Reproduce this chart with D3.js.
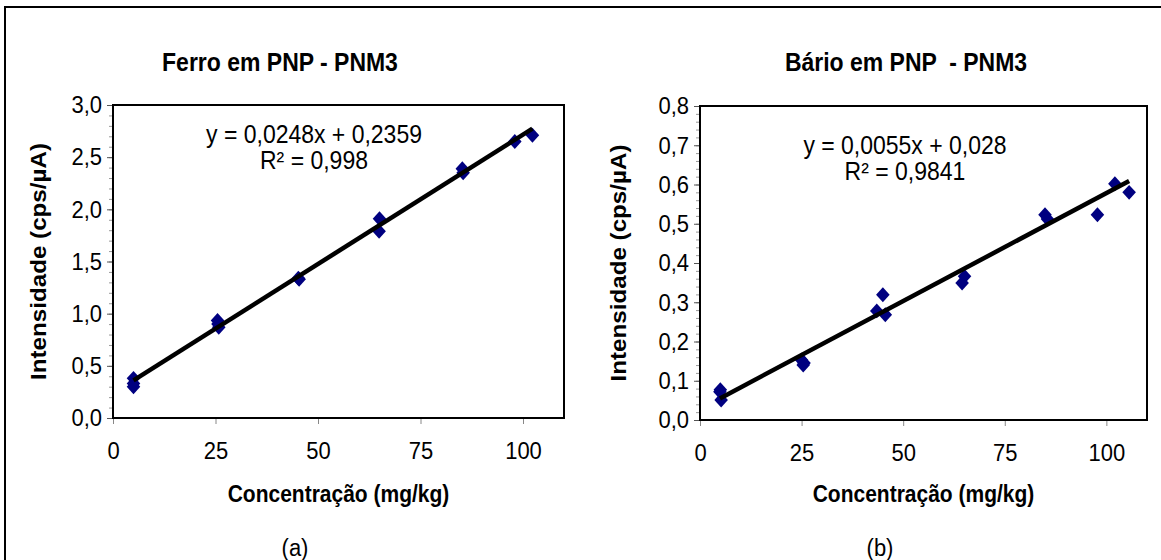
<!DOCTYPE html>
<html>
<head>
<meta charset="utf-8">
<script src="https://cdn.jsdelivr.net/npm/d3@7"></script>
<style>
  body { margin: 0; background: #fff; }
  svg { display: block; font-family: "Liberation Sans", Arial, sans-serif; }
  /* the source picture is stretched a bit vertically, so the glyphs are too */
  svg text { transform-box: fill-box; transform-origin: center; transform: scaleY(1.1); }
  svg text.side { transform: scaleX(1.1); }
</style>
</head>
<body>
<svg id="chart" width="1161" height="560"></svg>
<script>
  // values
  var ferroX = [5, 5, 5, 25.5, 25.8, 25.6, 45.2, 45.4, 65, 64.9, 85.2, 85.4, 98, 102.3];
  var ferroY = [0.38, 0.30, 0.33, 0.935, 0.87, 0.90, 1.34, 1.33, 1.91, 1.79, 2.39, 2.35, 2.65, 2.71];
  var ferroFit = [0.0248, 0.2359];

  var barioX = [4.9, 5.2, 5.0, 25, 25.6, 25.4, 45, 43.5, 45.6, 64.5, 65.1, 84.9, 85.5, 97.8, 102.1, 105.6];
  var barioY = [0.072, 0.051, 0.077, 0.153, 0.145, 0.14, 0.319, 0.278, 0.268, 0.349, 0.366, 0.523, 0.512, 0.523, 0.602, 0.58];
  var barioFit = [0.0055, 0.028];

  var xTicks = [0, 25, 50, 75, 100];
  var ferroYTicks = [0, 0.5, 1.0, 1.5, 2.0, 2.5, 3.0];
  var barioYTicks = [0, 0.1, 0.2, 0.3, 0.4, 0.5, 0.6, 0.7, 0.8];

  var titles = ['Ferro em PNP - PNM3', 'Bário em PNP  - PNM3'];
  var equations = [['y = 0,0248x + 0,2359', 'R² = 0,998'], ['y = 0,0055x + 0,028', 'R² = 0,9841']];
  var captions = ['(a)', '(b)'];
  var xTitle = 'Concentração (mg/kg)';
  var yTitle = 'Intensidade (cps/µA)';

  var ptBR = d3.formatLocale({decimal: ',', thousands: '.', grouping: [3], currency: ['', '']});
  var fmt1 = ptBR.format('.1f');

  var svg = d3.select('#chart');

  // outer frame (only top and left edges fall inside the picture)
  svg.append('path')
      .attr('d', 'M5,560 L5,7 L1161,7')
      .attr('fill', 'none')
      .attr('stroke', '#000')
      .attr('stroke-width', 2);

  var diamond = d3.symbol().type(d3.symbolSquare).size(92);

  var styleAxisText = function (a) {
    a.selectAll('text')
        .attr('font-size', 22)
        .attr('fill', '#000')
        .attr('font-family', '"Liberation Sans", Arial, sans-serif');
  };

  var drawPanel = function (opts) {
    var x = d3.scaleLinear().domain([0, 110]).range([opts.left, opts.right]);
    var y = d3.scaleLinear().domain([0, opts.yMax]).range([opts.bottom, opts.top]);
    var g = svg.append('g');
    var midX = (opts.left + opts.right) / 2;

    // minor y ticks
    var minor = d3.range(0, opts.yMax + opts.minorStep / 2, opts.minorStep);
    g.append('g')
        .attr('transform', 'translate(' + opts.left + ',0)')
        .call(d3.axisLeft(y).tickValues(minor).tickSize(4).tickFormat(''))
        .call(function (a) {
          a.select('.domain').remove();
          a.selectAll('line').attr('stroke', '#999');
        });

    // major y ticks
    g.append('g')
        .attr('transform', 'translate(' + opts.left + ',0)')
        .call(d3.axisLeft(y).tickValues(opts.yTicks).tickSize(6).tickPadding(5).tickFormat(fmt1))
        .call(function (a) {
          a.select('.domain').remove();
          a.selectAll('line').attr('stroke', '#555');
        })
        .call(styleAxisText);

    // x ticks
    g.append('g')
        .attr('transform', 'translate(0,' + opts.bottom + ')')
        .call(d3.axisBottom(x).tickValues(xTicks).tickSize(6).tickPadding(19))
        .call(function (a) {
          a.select('.domain').remove();
          a.selectAll('line').attr('stroke', '#888');
        })
        .call(styleAxisText);

    // plot area frame
    g.append('rect')
        .attr('x', opts.left)
        .attr('y', opts.top)
        .attr('width', opts.right - opts.left)
        .attr('height', opts.bottom - opts.top)
        .attr('fill', 'none')
        .attr('stroke', '#000')
        .attr('stroke-width', 2);

    // points
    g.selectAll('path.pt')
        .data(opts.xs.map(function (v, i) { return [v, opts.ys[i]]; }))
        .enter().append('path')
        .attr('class', 'pt')
        .attr('d', diamond)
        .attr('fill', '#000080')
        .attr('transform', function (d) {
          return 'translate(' + x(d[0]) + ',' + y(d[1]) + ') scale(1,1.1) rotate(45)';
        });

    // linear trend line over the data range
    var x0 = d3.min(opts.xs);
    var x1 = d3.max(opts.xs);
    g.append('line')
        .attr('x1', x(x0))
        .attr('y1', y(opts.fit[0] * x0 + opts.fit[1]))
        .attr('x2', x(x1))
        .attr('y2', y(opts.fit[0] * x1 + opts.fit[1]))
        .attr('stroke', '#000')
        .attr('stroke-width', 4.5);

    // equation
    g.selectAll('text.eq')
        .data(opts.eq)
        .enter().append('text')
        .attr('class', 'eq')
        .attr('x', opts.eqX)
        .attr('y', function (d, i) { return opts.eqY + i * 26.5; })
        .attr('text-anchor', 'middle')
        .attr('font-size', 23)
        .text(function (d) { return d; });

    // titles
    g.append('text')
        .attr('x', opts.titleX)
        .attr('y', 70)
        .attr('text-anchor', 'middle')
        .attr('font-size', 23)
        .attr('font-weight', 'bold')
        .style('white-space', 'pre')
        .text(opts.title);

    g.append('text')
        .attr('x', midX)
        .attr('y', 501)
        .attr('text-anchor', 'middle')
        .attr('font-size', 21)
        .attr('font-weight', 'bold')
        .text(xTitle);

    g.append('g')
        .attr('transform', 'translate(' + opts.yTitleX + ',' + ((opts.top + opts.bottom) / 2) + ') rotate(-90)')
        .append('text')
        .attr('class', 'side')
        .attr('text-anchor', 'middle')
        .attr('font-size', 22)
        .attr('font-weight', 'bold')
        .text(yTitle);

    g.append('text')
        .attr('x', opts.captionX)
        .attr('y', 555)
        .attr('text-anchor', 'middle')
        .attr('font-size', 22)
        .text(opts.caption);
  };

  drawPanel({
    left: 113, right: 564, top: 105, bottom: 418,
    yMax: 3, yTicks: ferroYTicks, minorStep: 0.1,
    xs: ferroX, ys: ferroY, fit: ferroFit,
    eq: equations[0], eqX: 314, eqY: 142,
    title: titles[0], titleX: 280,
    yTitleX: 46, captionX: 295, caption: captions[0]
  });

  drawPanel({
    left: 700, right: 1147, top: 106, bottom: 420,
    yMax: 0.8, yTicks: barioYTicks, minorStep: 0.02,
    xs: barioX, ys: barioY, fit: barioFit,
    eq: equations[1], eqX: 905, eqY: 153,
    title: titles[1], titleX: 906,
    yTitleX: 626, captionX: 880, caption: captions[1]
  });
</script>
</body>
</html>
